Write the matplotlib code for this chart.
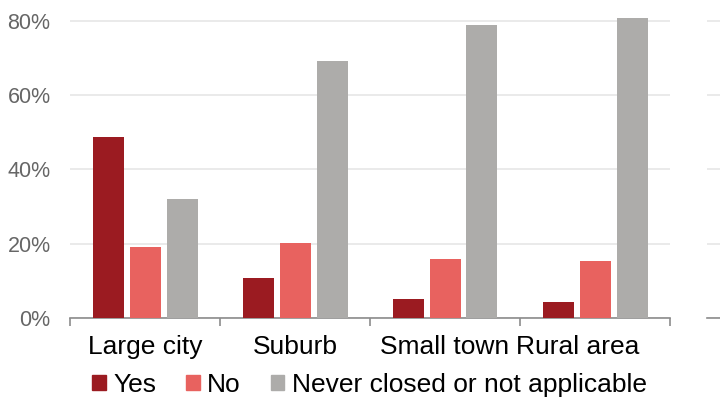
import numpy as np
import matplotlib.pyplot as plt
import matplotlib.transforms as mtransforms
from matplotlib.patches import Patch

categories = ["Large city", "Suburb", "Small town", "Rural area"]
series_names = ["Yes", "No", "Never closed or not applicable"]
yes_vals = [48.8, 10.7, 5.1, 4.2]
no_vals = [19.1, 20.2, 15.9, 15.4]
never_vals = [32.0, 69.3, 79.0, 80.9]
colors = ["#9b1b21", "#e8625f", "#adacaa"]

plt.rcParams["font.family"] = ["Liberation Sans", "DejaVu Sans"]

fig = plt.figure(figsize=(7.2, 3.99), dpi=100)
ax = fig.add_axes([70 / 720, 81 / 399, 600 / 720, 312 / 399])
ax2 = fig.add_axes([707 / 720, 81 / 399, 0.2, 312 / 399])

x = np.arange(len(categories)) + 0.5
w = 31 / 150
step = 37 / 150
for i, vals in enumerate([yes_vals, no_vals, never_vals]):
    ax.bar(x + (i - 1) * step, vals, width=w, color=colors[i], zorder=3)

for a in (ax, ax2):
    a.set_ylim(0, 84)
    a.set_yticks([0, 20, 40, 60, 80])
    a.grid(axis="y", color="#e6e6e6", linewidth=1.2, zorder=0)
    for s in ("top", "right", "left"):
        a.spines[s].set_visible(False)
    a.spines["bottom"].set_color("#8c8c8c")
    a.spines["bottom"].set_linewidth(1.2)
    a.tick_params(axis="y", length=0)

ax.set_xlim(0, 4)
ax.set_xticks([0, 1, 2, 3, 4])
ax.set_xticklabels([])
ax.set_xticks(x, minor=True)
ax.set_xticklabels(categories, minor=True, fontsize=19)
ax.tick_params(axis="x", which="major", length=6, color="#8c8c8c", width=1.2)
ax.tick_params(axis="x", which="minor", length=0, pad=12)
ax.set_yticklabels([f"{v}%" for v in [0, 20, 40, 60, 80]], fontsize=15.5, color="#666666")
ax.tick_params(axis="y", pad=14)

# last category label sits a bit left in the original (crowded labels)
last = ax.get_xticklabels(minor=True)[-1]
last.set_transform(last.get_transform() + mtransforms.ScaledTranslation(-0.17, 0, fig.dpi_scale_trans))

ax2.set_xlim(0, 1)
ax2.set_xticks([])
ax2.set_yticklabels([])

handles = [Patch(color=c) for c in colors]
fig.legend(handles, series_names, loc="center left", bbox_to_anchor=(74 / 720, 14 / 399),
           ncol=3, frameon=False, fontsize=19, handlelength=0.5, handleheight=0.5,
           handletextpad=0.28, columnspacing=1.15, borderpad=0.2)

fig.savefig("out.png", dpi=100)
